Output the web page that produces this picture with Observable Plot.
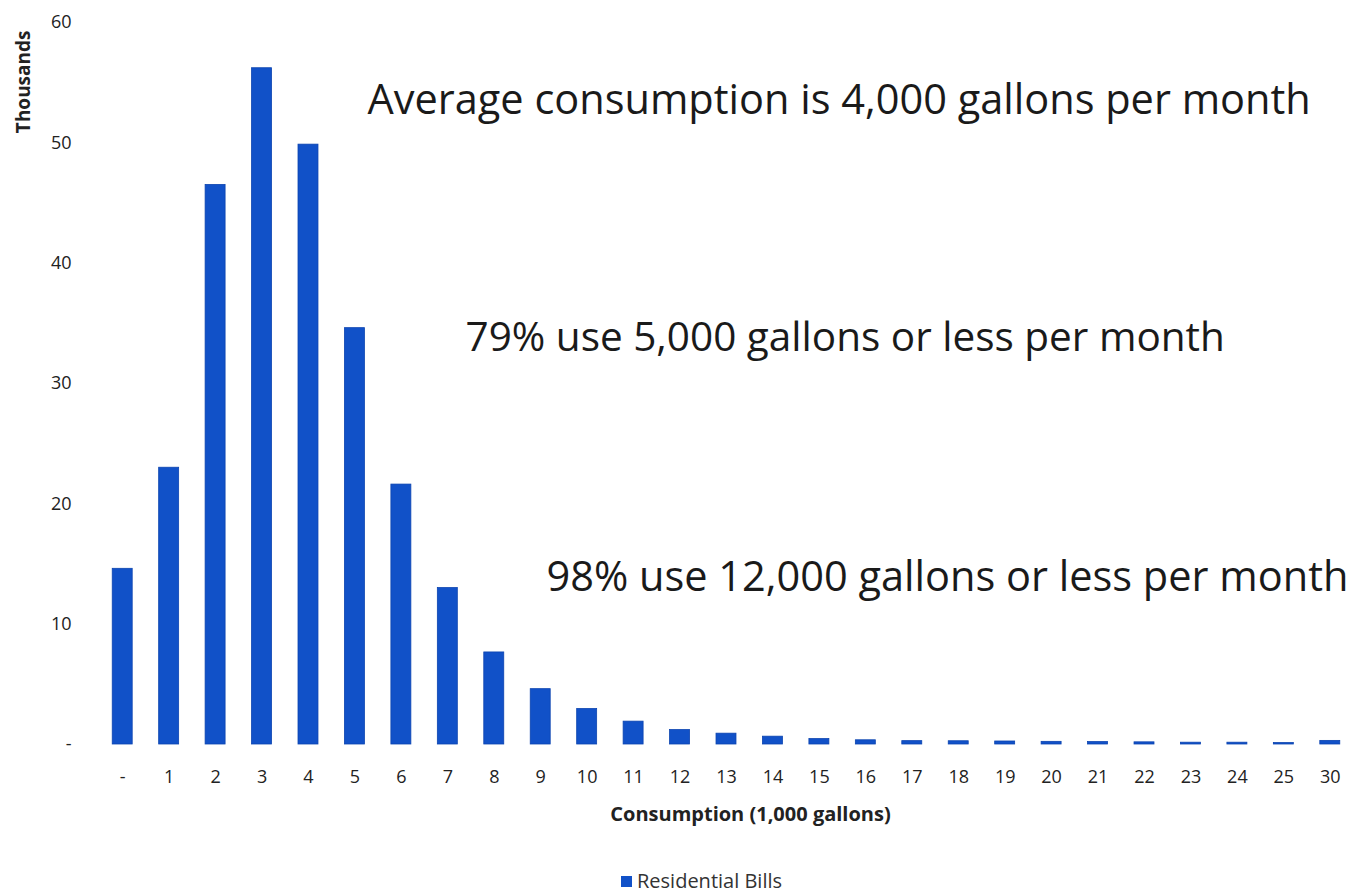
<!DOCTYPE html>
<html>
<head>
<meta charset="utf-8">
<script src="https://cdn.jsdelivr.net/npm/d3@7"></script>
<script src="https://cdn.jsdelivr.net/npm/@observablehq/plot@0.6"></script>
<style>
  html, body { margin: 0; padding: 0; background: #fff; }
  #wrap { position: relative; width: 1363px; height: 893px; overflow: hidden; }
  #legend { position: absolute; left: 621px; top: 870px; font-family: "Open Sans", sans-serif; font-size: 20px; line-height: 22px; color: #333; display: flex; align-items: center; gap: 5px; }
  #legend .sw { width: 11px; height: 11px; background: #1151c8; }
</style>
</head>
<body>
<div id="wrap">
  <div id="chart"></div>
  <div id="legend"><span class="sw"></span><span>Residential Bills</span></div>
</div>
<script>
// Consumption categories (1,000 gallons); "-" is zero
const categories = ["-", "1", "2", "3", "4", "5", "6", "7", "8", "9", "10", "11", "12", "13", "14", "15", "16", "17", "18", "19", "20", "21", "22", "23", "24", "25", "30"];
// Residential bills, thousands
const bills = [14.6, 23.0, 46.5, 56.2, 49.85, 34.6, 21.6, 13.0, 7.65, 4.6, 2.95, 1.9, 1.2, 0.9, 0.65, 0.45, 0.35, 0.28, 0.27, 0.25, 0.22, 0.2, 0.18, 0.15, 0.15, 0.12, 0.3];
const yTicks = [0, 10, 20, 30, 40, 50, 60];
const seriesName = "Residential Bills";
const yLabel = "Thousands";
const xLabel = "Consumption (1,000 gallons)";
const notes = [
  "Average consumption is 4,000 gallons per month",
  "79% use 5,000 gallons or less per month",
  "98% use 12,000 gallons or less per month"
];

const data = categories.map((c, i) => ({category: c, value: bills[i], series: seriesName}));
const font = "'Open Sans', sans-serif";

const chart = Plot.plot({
  width: 1363,
  height: 862,
  marginLeft: 89,
  marginRight: 0,
  marginTop: 22,
  marginBottom: 118,
  style: {fontFamily: font, background: "#fff", overflow: "visible"},
  x: {domain: categories, paddingInner: 0.57, paddingOuter: 0.5, round: false, label: null},
  y: {domain: [0, 60], ticks: yTicks, label: null},
  marks: [
    Plot.barY(data, {x: "category", y: "value", fill: "#1151c8", stroke: "#0c44b0", strokeWidth: 0.8}),
    Plot.axisX({tickSize: 0, tickPadding: 26, fontSize: 18, color: "#222", label: null}),
    Plot.axisY({ticks: yTicks, tickSize: 0, tickPadding: 18, fontSize: 18, color: "#222", label: null,
      tickFormat: d => d === 0 ? "-" : String(d)}),
    Plot.text([yLabel], {frameAnchor: "top-left", text: d => d, rotate: -90, textAnchor: "end",
      dx: -73, dy: 8, fontSize: 19, fontWeight: "bold", fill: "#222"}),
    Plot.text([xLabel], {frameAnchor: "bottom", text: d => d, dx: 24, dy: 76,
      fontSize: 20, fontWeight: "bold", fill: "#222"}),
    Plot.text([notes[0]], {frameAnchor: "top-left", text: d => d, textAnchor: "start", lineAnchor: "middle",
      dx: 278, dy: 78, fontSize: 41.5, fill: "#1a1a1a"}),
    Plot.text([notes[1]], {frameAnchor: "top-left", text: d => d, textAnchor: "start", lineAnchor: "middle",
      dx: 376, dy: 316, fontSize: 40.5, fill: "#1a1a1a"}),
    Plot.text([notes[2]], {frameAnchor: "top-left", text: d => d, textAnchor: "start", lineAnchor: "middle",
      dx: 457, dy: 555, fontSize: 41.5, fill: "#1a1a1a"})
  ]
});
document.getElementById("chart").appendChild(chart);
</script>
</body>
</html>
